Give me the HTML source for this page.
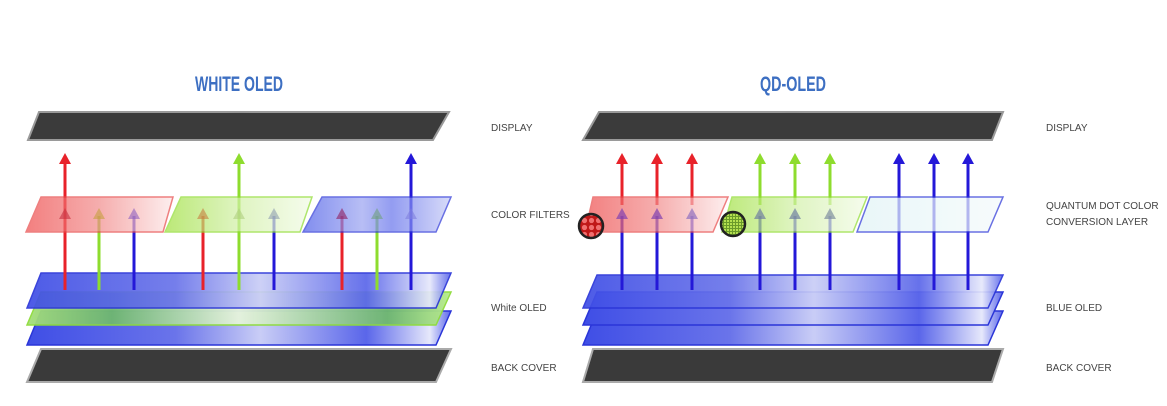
<!DOCTYPE html>
<html><head><meta charset="utf-8"><style>
html,body{margin:0;padding:0;background:#fff;}
svg{display:block}
text{font-family:"Liberation Sans",sans-serif;}
</style></head><body>
<svg width="1167" height="406" viewBox="0 0 1167 406" xmlns="http://www.w3.org/2000/svg">
<defs>
<radialGradient id="glow" cx="0.5" cy="0" r="0.5">
<stop offset="0" stop-color="#fff"/><stop offset="0.4" stop-color="#bbb"/><stop offset="1" stop-color="#3a3a3a" stop-opacity="0"/></radialGradient>
<clipPath id="c1"><path d="M39,112 L449,112 L433,140 L28,140 Z"/></clipPath>
<clipPath id="c2"><path d="M599,112 L1003,112 L992,140 L583,140 Z"/></clipPath>
<linearGradient id="blueL" x1="0" x2="1"><stop offset="0" stop-color="#3f4ee6"/><stop offset="0.35" stop-color="#6a74ea"/><stop offset="0.55" stop-color="#c9cdf6"/><stop offset="0.8" stop-color="#5a66ea"/><stop offset="0.95" stop-color="#e6e8fb"/><stop offset="1" stop-color="#5a66ea"/></linearGradient>
<linearGradient id="greenL" x1="0" x2="1"><stop offset="0" stop-color="#a6e07a"/><stop offset="0.2" stop-color="#6fb86f"/><stop offset="0.5" stop-color="#e6f4dc"/><stop offset="0.85" stop-color="#6fb86f"/><stop offset="1" stop-color="#b8ec8a"/></linearGradient>
<linearGradient id="redF" x1="0" x2="1"><stop offset="0" stop-color="#ee4a4a"/><stop offset="0.5" stop-color="#f28c8c"/><stop offset="1" stop-color="#fde8e8"/></linearGradient>
<linearGradient id="greenF" x1="0" x2="1"><stop offset="0" stop-color="#9fe03e"/><stop offset="0.5" stop-color="#d2f0a8"/><stop offset="1" stop-color="#f2fbe6"/></linearGradient>
<linearGradient id="blueF" x1="0" x2="1"><stop offset="0" stop-color="#4d5ee8"/><stop offset="0.4" stop-color="#9aa3f1"/><stop offset="0.6" stop-color="#6673ec"/><stop offset="1" stop-color="#c8cdf7"/></linearGradient>
<linearGradient id="clearF" x1="0" x2="1"><stop offset="0" stop-color="#e0f4f6"/><stop offset="1" stop-color="#f4fafb"/></linearGradient>
<pattern id="rdot" width="7" height="7" patternUnits="userSpaceOnUse"><rect width="7" height="7" fill="#c01818"/><circle cx="3.5" cy="3.5" r="2.6" fill="#f07070"/></pattern>
<pattern id="gdot" width="3" height="3" patternUnits="userSpaceOnUse"><rect width="3" height="3" fill="#b4e050"/><rect width="1" height="3" fill="#6a9a2a"/><rect width="3" height="1" fill="#6a9a2a"/></pattern>
</defs>

<!-- titles -->
<text x="195" y="91" textLength="88" lengthAdjust="spacingAndGlyphs" font-weight="bold" font-size="21" fill="#3d6fc2">WHITE OLED</text>
<text x="760" y="91" textLength="66" lengthAdjust="spacingAndGlyphs" font-weight="bold" font-size="21" fill="#3d6fc2">QD-OLED</text>

<!-- LEFT PANEL -->
<path d="M39,112 L449,112 L433,140 L28,140 Z" fill="#3b3b3b" stroke="#9a9a9a" stroke-width="2"/>
<ellipse cx="239" cy="113" rx="40" ry="14" fill="url(#glow)" opacity="0.9" clip-path="url(#c1)"/>
<path d="M41,349 L451,349 L436,382 L27,382 Z" fill="#3a3a3a" stroke="#aaa" stroke-width="2"/>
<path d="M41,311 L451,311 L436,345 L27,345 Z" fill="url(#blueL)" stroke="#2a35d8" stroke-width="1.5"/>
<path d="M41,292 L451,292 L436,325 L27,325 Z" fill="url(#greenL)" stroke="#8edc3a" stroke-width="1.5" opacity="0.95"/>
<path d="M41,273 L451,273 L436,308 L27,308 Z" fill="url(#blueL)" stroke="#2a35d8" stroke-width="1.5" opacity="0.92"/>

<g stroke-width="3">
<line x1="65" y1="290" x2="65" y2="162" stroke="#e8222a"/><path d="M59,164 L65,153 L71,164Z" fill="#e8222a"/>
<line x1="99" y1="290" x2="99" y2="216" stroke="#8edc2e"/>
<line x1="134" y1="290" x2="134" y2="216" stroke="#2418d8"/>
<line x1="203" y1="290" x2="203" y2="216" stroke="#e8222a"/>
<line x1="239" y1="290" x2="239" y2="162" stroke="#8edc2e"/><path d="M233,164 L239,153 L245,164Z" fill="#8edc2e"/>
<line x1="274" y1="290" x2="274" y2="216" stroke="#2418d8"/>
<line x1="342" y1="290" x2="342" y2="216" stroke="#e8222a"/>
<line x1="377" y1="290" x2="377" y2="216" stroke="#8edc2e"/>
<line x1="411" y1="290" x2="411" y2="162" stroke="#2418d8"/><path d="M405,164 L411,153 L417,164Z" fill="#2418d8"/>
</g>
<g opacity="0.7">
<path d="M41,197 L173,197 L163,232 L26,232 Z" fill="url(#redF)" stroke="#e84a4a" stroke-width="1.5"/>
<path d="M181,197 L312,197 L300,232 L165,232 Z" fill="url(#greenF)" stroke="#8edc2e" stroke-width="1.5"/>
<path d="M322,197 L451,197 L436,232 L303,232 Z" fill="url(#blueF)" stroke="#2a35d8" stroke-width="1.5"/>
</g>
<g opacity="0.6">
<path d="M59,219 L65,208 L71,219Z" fill="#c83040"/><path d="M93,219 L99,208 L105,219Z" fill="#c8a040"/><path d="M128,219 L134,208 L140,219Z" fill="#9060c0"/>
<path d="M197,219 L203,208 L209,219Z" fill="#c88040"/><path d="M233,219 L239,208 L245,219Z" fill="#b0d080"/><path d="M268,219 L274,208 L280,219Z" fill="#90a0b0"/>
<path d="M336,219 L342,208 L348,219Z" fill="#902060"/><path d="M371,219 L377,208 L383,219Z" fill="#70a080"/><path d="M405,219 L411,208 L417,219Z" fill="#8080e0"/>
</g>

<!-- RIGHT PANEL -->
<path d="M599,112 L1003,112 L992,140 L583,140 Z" fill="#3b3b3b" stroke="#9a9a9a" stroke-width="2"/>
<ellipse cx="792" cy="113" rx="40" ry="14" fill="url(#glow)" opacity="0.9" clip-path="url(#c2)"/>
<path d="M593,349 L1003,349 L992,382 L583,382 Z" fill="#3a3a3a" stroke="#aaa" stroke-width="2"/>
<path d="M597,311 L1003,311 L988,345 L583,345 Z" fill="url(#blueL)" stroke="#2a35d8" stroke-width="1.5"/>
<path d="M597,292 L1003,292 L988,325 L583,325 Z" fill="url(#blueL)" stroke="#2a35d8" stroke-width="1.5"/>
<path d="M597,275 L1003,275 L988,308 L583,308 Z" fill="url(#blueL)" stroke="#2a35d8" stroke-width="1.5" opacity="0.92"/>

<g stroke-width="3">
<line x1="622" y1="290" x2="622" y2="216" stroke="#2418d8"/><line x1="657" y1="290" x2="657" y2="216" stroke="#2418d8"/><line x1="692" y1="290" x2="692" y2="216" stroke="#2418d8"/>
<line x1="760" y1="290" x2="760" y2="216" stroke="#2418d8"/><line x1="795" y1="290" x2="795" y2="216" stroke="#2418d8"/><line x1="830" y1="290" x2="830" y2="216" stroke="#2418d8"/>
<line x1="899" y1="290" x2="899" y2="162" stroke="#2418d8"/><line x1="934" y1="290" x2="934" y2="162" stroke="#2418d8"/><line x1="968" y1="290" x2="968" y2="162" stroke="#2418d8"/>
<line x1="622" y1="205" x2="622" y2="162" stroke="#e8222a"/><line x1="657" y1="205" x2="657" y2="162" stroke="#e8222a"/><line x1="692" y1="205" x2="692" y2="162" stroke="#e8222a"/>
<line x1="760" y1="205" x2="760" y2="162" stroke="#8edc2e"/><line x1="795" y1="205" x2="795" y2="162" stroke="#8edc2e"/><line x1="830" y1="205" x2="830" y2="162" stroke="#8edc2e"/>
</g>
<g>
<path d="M616,164 L622,153 L628,164Z" fill="#e8222a"/><path d="M651,164 L657,153 L663,164Z" fill="#e8222a"/><path d="M686,164 L692,153 L698,164Z" fill="#e8222a"/>
<path d="M754,164 L760,153 L766,164Z" fill="#8edc2e"/><path d="M789,164 L795,153 L801,164Z" fill="#8edc2e"/><path d="M824,164 L830,153 L836,164Z" fill="#8edc2e"/>
<path d="M893,164 L899,153 L905,164Z" fill="#2418d8"/><path d="M928,164 L934,153 L940,164Z" fill="#2418d8"/><path d="M962,164 L968,153 L974,164Z" fill="#2418d8"/>
</g>
<g opacity="0.7">
<path d="M593,197 L728,197 L713,232 L585,232 Z" fill="url(#redF)" stroke="#e84a4a" stroke-width="1.5"/>
<path d="M732,197 L867,197 L853,232 L722,232 Z" fill="url(#greenF)" stroke="#8edc2e" stroke-width="1.5"/>
<path d="M870,197 L1003,197 L988,232 L857,232 Z" fill="url(#clearF)" stroke="#2a35d8" stroke-width="1.5"/>
</g>
<g opacity="0.7">
<path d="M616,219 L622,208 L628,219Z" fill="#8040b0"/><path d="M651,219 L657,208 L663,219Z" fill="#8040b0"/><path d="M686,219 L692,208 L698,219Z" fill="#9070c0"/>
<path d="M754,219 L760,208 L766,219Z" fill="#7080a0"/><path d="M789,219 L795,208 L801,219Z" fill="#7080a0"/><path d="M824,219 L830,208 L836,219Z" fill="#8090a0"/>
</g>
<circle cx="591" cy="226" r="12" fill="url(#rdot)" stroke="#222" stroke-width="2.5"/>
<circle cx="733" cy="224" r="12" fill="url(#gdot)" stroke="#222" stroke-width="2.5"/>

<!-- labels -->
<g font-size="10" fill="#444">
<text x="491" y="131">DISPLAY</text>
<text x="491" y="218">COLOR FILTERS</text>
<text x="491" y="311">White OLED</text>
<text x="491" y="371">BACK COVER</text>
<text x="1046" y="131">DISPLAY</text>
<text x="1046" y="209">QUANTUM DOT COLOR</text>
<text x="1046" y="225">CONVERSION LAYER</text>
<text x="1046" y="311">BLUE OLED</text>
<text x="1046" y="371">BACK COVER</text>
</g>
</svg>
</body></html>
